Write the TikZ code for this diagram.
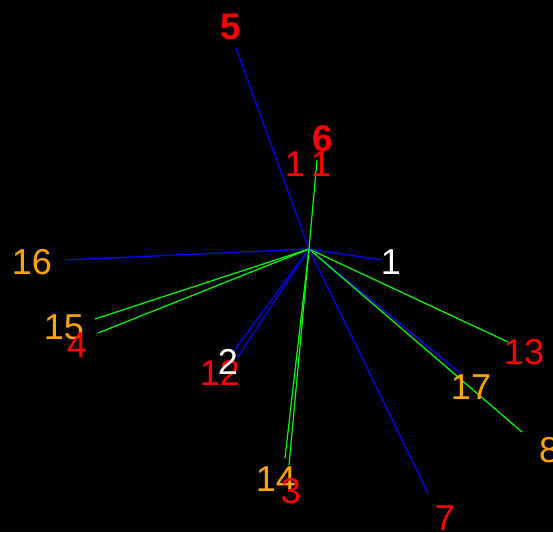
\documentclass[tikz,border=0pt]{standalone}
\usepackage{fontspec}
\setmainfont{Liberation Sans}
\definecolor{lblue}{RGB}{0,0,255}
\definecolor{lgreen}{RGB}{0,255,0}
\definecolor{lred}{RGB}{255,0,0}
\definecolor{lorange}{RGB}{255,165,0}
\begin{document}
\begin{tikzpicture}[x=1pt,y=-1pt,
  lbl/.style={inner sep=0pt, anchor=center, font=\fontsize{36}{36}\selectfont},
  blbl/.style={lbl, font=\fontsize{37}{37}\selectfont\bfseries},
  bl/.style={draw=lblue, line width=1.2pt},
  gl/.style={draw=lgreen, line width=1.2pt}]
\fill[black] (0,0) rectangle (553,532);
\useasboundingbox (0,0) rectangle (553,532);
\coordinate (c) at (309,249);
% end points
\coordinate (e5) at (236,48);
\coordinate (e6) at (317,160);
\coordinate (e16) at (65,260);
\coordinate (e15) at (95,319);
\coordinate (e4) at (98,333);
\coordinate (e2) at (233,352);
\coordinate (e12) at (237,358);
\coordinate (e1) at (382,260);
\coordinate (e13) at (508,342);
\coordinate (e17) at (460,373);
\coordinate (e8) at (522,432);
\coordinate (e7) at (428,493);
\coordinate (e14) at (285,458);
\coordinate (e3) at (289,465);
% connectors
\draw[bl] (c) -- (e5);
\draw[gl] (c) -- (e6);
\draw[bl] (c) -- (e16);
\draw[gl] (c) -- (e15);
\draw[gl] (c) -- (e4);
\draw[bl] (c) -- (e2);
\draw[bl] (c) -- (e12);
\draw[bl] (c) -- (e1);
\draw[gl] (c) -- (e13);
\draw[bl] (c) -- (e17);
\draw[gl] (c) -- (e8);
\draw[bl] (c) -- (e7);
\draw[gl] (c) -- (e14);
\draw[gl] (c) -- (e3);
% labels
\node[blbl, text=lred] (n5) at (231,27) {5};
\node[blbl, text=lred] (n6) at (323,139) {6};
\node[lbl, text=lred] (n11) at (308,164) {1\kern6pt1};
\node[lbl, text=lorange] (n16) at (32,262) {16};
\node[lbl, text=lorange] (n15) at (64,327) {15};
\node[lbl, text=lred] (n4) at (77,345) {4};
\node[lbl, text=lred] (n12) at (220,373) {12};
\node[lbl, text=white] (n2) at (228,362) {2};
\node[lbl, text=white] (n1) at (391,262) {1};
\node[lbl, text=lred] (n13) at (524,352) {13};
\node[lbl, text=lorange] (n17) at (471,387) {17};
\node[lbl, text=lorange] (n8) at (549,450) {8};
\node[lbl, text=lorange] (n14) at (276,479) {14};
\node[lbl, text=lred] (n3) at (291,491) {3};
\node[lbl, text=lred] (n7) at (445,518) {7};
\end{tikzpicture}
\end{document}
